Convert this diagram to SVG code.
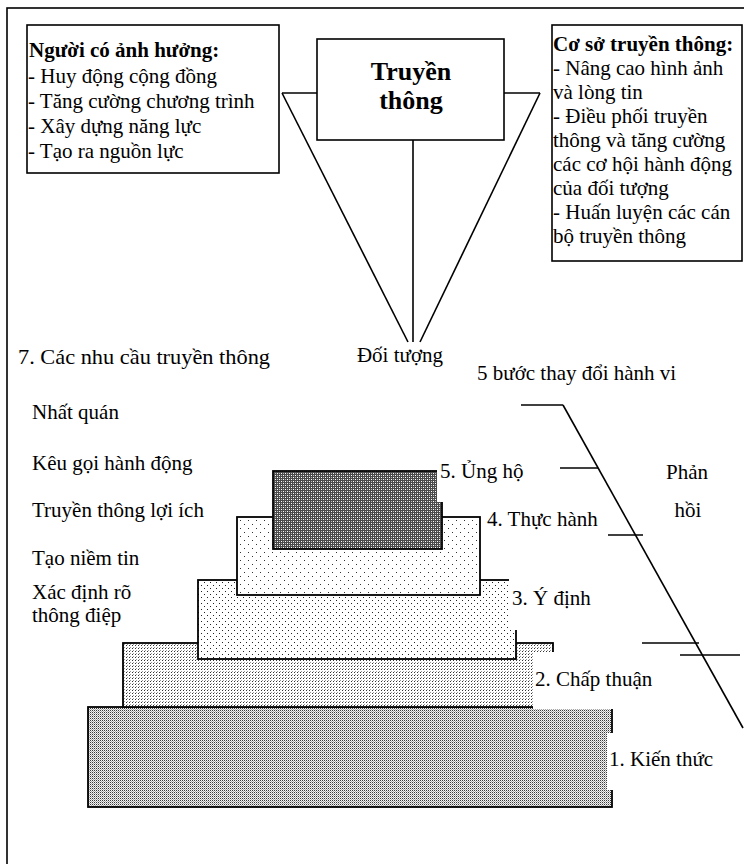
<svg xmlns="http://www.w3.org/2000/svg" width="744" height="864" viewBox="0 0 744 864">
<style>
text{font-family:"Liberation Serif","Times New Roman",serif;font-size:21px;fill:#000}
.b{font-weight:bold}
.big{font-weight:bold;font-size:26px}
.box{fill:#fff;stroke:#000;stroke-width:1.6}
.ln{stroke:#000;stroke-width:1.6;fill:none}
.lvl{stroke:#000;stroke-width:1.8}
.wb{fill:#fff;stroke:none}
</style>
<defs>
<pattern id="p1" width="2" height="2" patternUnits="userSpaceOnUse"><rect width="2" height="2" fill="#f2f2f2"/><rect width="1" height="1" fill="#3a3a3a" shape-rendering="crispEdges"/><rect x="1" y="1" width="1" height="1" fill="#a8a8a8" shape-rendering="crispEdges"/></pattern>
<pattern id="p2" width="3" height="3" patternUnits="userSpaceOnUse"><rect width="3" height="3" fill="#fff"/><rect width="1" height="1" fill="#333" shape-rendering="crispEdges"/><rect x="1" y="2" width="1" height="1" fill="#999" shape-rendering="crispEdges"/></pattern>
<pattern id="p3" width="6" height="6" patternUnits="userSpaceOnUse"><rect width="6" height="6" fill="#fff"/><rect width="1" height="1" fill="#222" shape-rendering="crispEdges"/><rect x="3" y="3" width="1" height="1" fill="#222" shape-rendering="crispEdges"/></pattern>
<pattern id="p4" width="8" height="8" patternUnits="userSpaceOnUse"><rect width="8" height="8" fill="#fff"/><rect width="1" height="1" fill="#333" shape-rendering="crispEdges"/><rect x="4" y="4" width="1" height="1" fill="#333" shape-rendering="crispEdges"/></pattern>
<pattern id="p5" width="4" height="4" patternUnits="userSpaceOnUse"><rect width="4" height="4" fill="#4a4a4a"/><rect x="1" y="1" width="1" height="1" fill="#fff" shape-rendering="crispEdges"/><rect x="3" y="3" width="1" height="1" fill="#fff" shape-rendering="crispEdges"/><rect x="3" y="1" width="1" height="1" fill="#bbb" shape-rendering="crispEdges"/><rect x="1" y="3" width="1" height="1" fill="#bbb" shape-rendering="crispEdges"/></pattern>
</defs>
<rect width="744" height="864" fill="#fff"/>
<rect id="frame" x="7" y="8" width="780" height="900" fill="none" stroke="#000" stroke-width="1.6"/>

<g id="connectors" class="ln">
<line x1="282" y1="93" x2="317" y2="93"/>
<line x1="282" y1="93" x2="408" y2="342"/>
<line x1="504" y1="93" x2="540" y2="93"/>
<line x1="540" y1="93" x2="420" y2="342"/>
<line x1="413" y1="140" x2="413" y2="342"/>
</g>

<g id="influencers">
<rect class="box" x="27" y="25" width="252" height="148"/>
<text class="b" x="29" y="57">Người có ảnh hưởng:</text>
<text x="28" y="83">- Huy động cộng đồng</text>
<text x="28" y="108">- Tăng cường chương trình</text>
<text x="28" y="133">- Xây dựng năng lực</text>
<text x="28" y="158">- Tạo ra nguồn lực</text>
</g>

<g id="communication">
<rect class="box" x="317" y="39" width="187" height="101"/>
<text class="big" x="411" y="80" text-anchor="middle">Truyền</text>
<text class="big" x="411" y="109" text-anchor="middle">thông</text>
</g>

<g id="media-base">
<rect class="box" x="552" y="25" width="190" height="236"/>
<text class="b" x="553" y="51">Cơ sở truyền thông:</text>
<text x="553" y="75">- Nâng cao hình ảnh</text>
<text x="553" y="99">và lòng tin</text>
<text x="553" y="123">- Điều phối truyền</text>
<text x="553" y="147">thông và tăng cường</text>
<text x="553" y="171">các cơ hội hành động</text>
<text x="553" y="195">của đối tượng</text>
<text x="553" y="219">- Huấn luyện các cán</text>
<text x="553" y="243">bộ truyền thông</text>
</g>

<g id="audience"><text x="400" y="362" text-anchor="middle">Đối tượng</text></g>

<g id="needs">
<text x="18" y="364" textLength="252" lengthAdjust="spacingAndGlyphs">7. Các nhu cầu truyền thông</text>
<text x="32" y="419">Nhất quán</text>
<text x="32" y="470">Kêu gọi hành động</text>
<text x="32" y="517">Truyền thông lợi ích</text>
<text x="32" y="565">Tạo niềm tin</text>
<text x="32" y="599">Xác định rõ</text>
<text x="32" y="622">thông điệp</text>
</g>

<g id="steps-title"><text x="477" y="380">5 bước thay đổi hành vi</text></g>

<g id="pyramid">
<rect id="level1" class="lvl" x="88" y="707" width="524" height="100" fill="url(#p1)"/>
<rect id="level2" class="lvl" x="123" y="643" width="430" height="64" fill="url(#p2)"/>
<rect id="level3" class="lvl" x="198" y="580" width="318" height="79" fill="url(#p3)"/>
<rect id="level4" class="lvl" x="237" y="517" width="243" height="78" fill="url(#p4)"/>
<rect id="level5" class="lvl" x="273" y="471" width="169" height="78" fill="url(#p5)"/>
</g>

<g id="labels">
<rect class="wb" x="437" y="458" width="95" height="44"/>
<text x="440" y="478">5. Ủng hộ</text>
<rect class="wb" x="484" y="505" width="122" height="30"/>
<text x="487" y="526">4. Thực hành</text>
<rect class="wb" x="509" y="577" width="90" height="53"/>
<text x="512" y="605">3. Ý định</text>
<rect class="wb" x="533" y="652" width="150" height="57"/>
<text x="535" y="686">2. Chấp thuận</text>
<rect class="wb" x="607" y="733" width="110" height="57"/>
<text x="609" y="766">1. Kiến thức</text>
</g>

<g id="feedback">
<g class="ln">
<line x1="563" y1="405" x2="743" y2="728"/>
<line x1="521" y1="405" x2="563" y2="405"/>
<line x1="560" y1="468" x2="598" y2="468"/>
<line x1="608" y1="535" x2="643" y2="535"/>
<line x1="642" y1="643" x2="699" y2="643"/>
<line x1="680" y1="655" x2="740" y2="655"/>
</g>
<text x="687" y="479" text-anchor="middle">Phản</text>
<text x="688" y="517" text-anchor="middle">hồi</text>
</g>
</svg>
